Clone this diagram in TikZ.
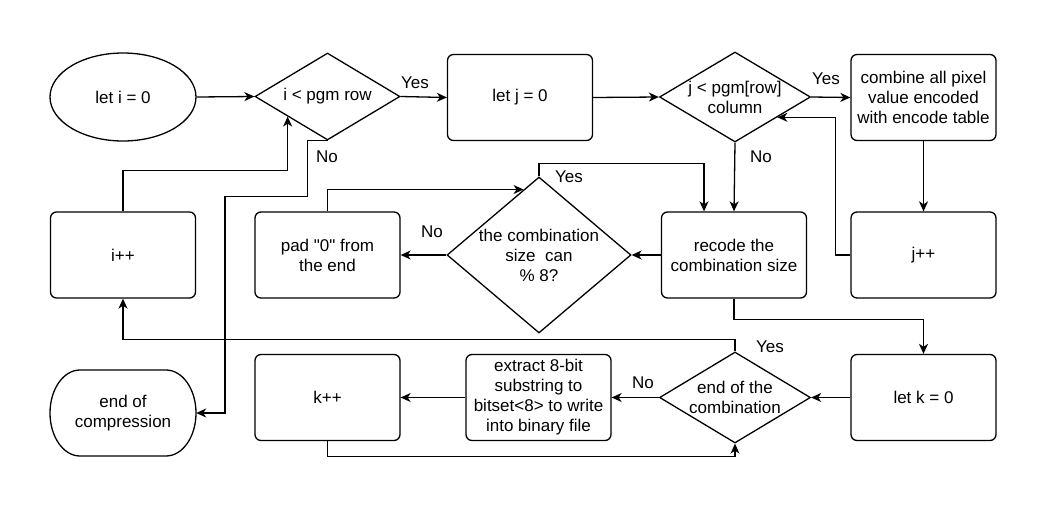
\documentclass[tikz,border=0pt]{standalone}
\usepackage{fontspec}
\newfontfamily\lsans{Liberation Sans}
\usetikzlibrary{shapes.geometric,arrows.meta,calc}
\begin{document}
\begin{tikzpicture}[x=1pt,y=-1pt,
  every node/.style={font=\lsans\fontsize{17}{20}\selectfont, align=center, inner sep=0pt},
  proc/.style={draw, line width=1.3pt, rounded corners=6pt, minimum width=145pt, minimum height=86pt},
  dia/.style={draw, diamond, line width=1.3pt, inner sep=0pt},
  term/.style={draw=none, minimum width=146pt, minimum height=86pt},
  conn/.style={line width=1.3pt, line join=miter, -{Stealth[length=10pt,width=9pt,inset=3pt]}},
  lbl/.style={font=\lsans\fontsize{17}{20}\selectfont}]
\useasboundingbox (0,0) rectangle (1046,517);

% shapes
\node[draw, ellipse, line width=1.3pt, minimum width=146pt, minimum height=88pt] (starti) at (123,97) {let i = 0};
\node[dia, minimum width=145pt, minimum height=87pt] (d1) at (327.5,96.5) {};
\node at (d1) {i < pgm row};
\node[proc] (letj) at (520,97.5) {let j = 0};
\node[dia, minimum width=151pt, minimum height=90pt] (d2) at (735,97) {};
\node at (d2) {j < pgm[row]\\column};
\node[proc] (combine) at (923.5,97.5) {combine all pixel\\value encoded\\with encode table};
\node[proc] (jpp) at (923.5,255) {j++};
\node[proc] (recode) at (734,255) {recode the\\combination size};
\node[dia, minimum width=184pt, minimum height=156pt] (cs) at (539,255) {};
\node at (cs) {the combination\\size\ \ can\\\% 8?};
\node[proc] (pad) at (327.5,255) {pad "0" from\\the end};
\node[proc] (ipp) at (123,255) {i++};
\node[term] (endc) at (123,413) {end of\\compression};
\draw[line width=1.3pt, shift={(endc.center)}]
  (-43,-43) -- (43,-43)
  .. controls (59.6,-43) and (73,-23.7) .. (73,0)
  .. controls (73,23.7) and (59.6,43) .. (43,43)
  -- (-43,43)
  .. controls (-59.6,43) and (-73,23.7) .. (-73,0)
  .. controls (-73,-23.7) and (-59.6,-43) .. (-43,-43) -- cycle;
\node[proc] (kpp) at (327.5,397.5) {k++};
\node[proc] (extract) at (538.5,397.5) {extract 8-bit\\substring to\\bitset<8> to write\\into binary file};
\node[dia, minimum width=151pt, minimum height=91pt] (d3) at (735,397.5) {};
\node at (d3) {end of the\\combination};
\node[proc] (letk) at (923.5,397.5) {let k = 0};

% connectors
\draw[conn] (starti.east) -- (d1.west);
\draw[conn] (d1.east) -- (letj.west);
\draw[conn] (letj.east) -- (d2.west);
\draw[conn] (d2.east) -- (combine.west);
\draw[conn] (combine.south) -- (jpp.north);
\draw[conn] (jpp.west) -- ++(-15,0) |- ($(d2.east)!0.444!(d2.south)$);
\draw[conn] (d2.south) -- (recode.north);
\draw[conn] (recode.west) -- (cs.east);
\draw[conn] (cs.north) -- ++(0,-13) -| ([xshift=-30pt]recode.north);
\draw[conn] (cs.west) -- (pad.east);
\draw[conn] (pad.north) |- ($(cs.north)!0.167!(cs.west)$);
\draw[conn] (recode.south) -- ++(0,21) -| (letk.north);
\draw[conn] (letk.west) -- (d3.east);
\draw[conn] (d3.west) -- (extract.east);
\draw[conn] (extract.west) -- (kpp.east);
\draw[conn] (kpp.south) -- ++(0,15) -| (d3.south);
\draw[conn] (d3.north) -- ++(0,-12) -| (ipp.south);
\draw[conn] (ipp.north) -- ++(0,-41) -| ($(d1.west)!0.455!(d1.south)$);
\draw[conn] (d1.south) -- ++(-20,0) -- ++(0,56) -- ++(-82.5,0) |- (endc.east);

% labels
\node[lbl] (y1) at (415,83) {Yes};
\node[lbl] (n1) at (327,157) {No};
\node[lbl] (y2) at (826,79) {Yes};
\node[lbl] (n2) at (761,157) {No};
\node[lbl] (y3) at (569,177) {Yes};
\node[lbl] (n3) at (432,232) {No};
\node[lbl] (y4) at (770,347) {Yes};
\node[lbl] (n4) at (643,383) {No};
\end{tikzpicture}
\end{document}
